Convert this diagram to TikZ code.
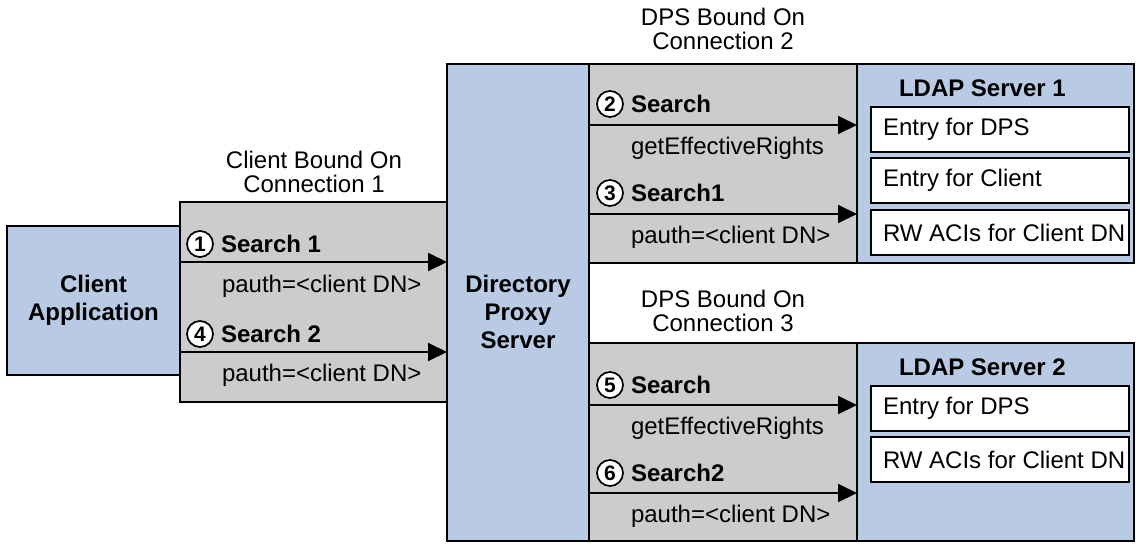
\documentclass[tikz,border=0pt]{standalone}
\usepackage{fontspec}
\setmainfont{Liberation Sans}
\usetikzlibrary{arrows.meta}
\definecolor{boxblue}{RGB}{185,203,228}
\definecolor{boxgray}{RGB}{204,204,204}
\newcommand{\entrytext}[1]{\makebox[234pt][l]{#1}}
\begin{document}
\begin{tikzpicture}[x=1pt,y=-1pt,
  every node/.style={font=\fontsize{24}{24}\selectfont, inner sep=0pt, outer sep=0pt},
  boldtext/.style={font=\fontsize{24}{28}\selectfont\bfseries},
  frame/.style={draw=black, line width=2pt, anchor=north west},
  bluebox/.style={frame, fill=boxblue},
  graybox/.style={frame, fill=boxgray},
  entrybox/.style={frame, fill=white, minimum width=258pt, minimum height=45pt,
    inner xsep=12pt},
  numcircle/.style={circle, draw=black, fill=white, line width=1.7pt, minimum size=26pt,
    font=\fontsize{21}{21}\selectfont\bfseries},
  conn/.style={line width=2pt, -{Triangle[length=19pt,width=18pt]}},
  header/.style={align=center, font=\fontsize{24}{24}\selectfont}
]
\useasboundingbox (0,0) rectangle (1136,544);

% boxes
\node[bluebox, minimum width=173pt, minimum height=149pt] (client) at (7,226) {};
\node[boldtext, align=center] (clientlbl) at (client.center) {Client\\Application};
\node[graybox, minimum width=267pt, minimum height=200pt] (gray1) at (180,202) {};
\node[bluebox, minimum width=142pt, minimum height=477pt] (dps) at (447,64) {};
\node[boldtext, align=center] (dpslbl) at (518,312) {Directory\\Proxy\\Server};
\node[graybox, minimum width=268pt, minimum height=199pt] (gray2) at (589,64) {};
\node[bluebox, minimum width=277pt, minimum height=199pt] (ldap1) at (857,64) {};
\node[graybox, minimum width=268pt, minimum height=198pt] (gray3) at (589,343) {};
\node[bluebox, minimum width=277pt, minimum height=198pt] (ldap2) at (857,343) {};

% LDAP contents
\node[boldtext, anchor=west] (l1lbl) at (899,88) {LDAP Server 1};
\node[entrybox] (e11) at (871,107) {\entrytext{Entry for DPS}};
\node[entrybox] (e12) at (871,158) {\entrytext{Entry for Client}};
\node[entrybox] (e13) at (871,210) {\entrytext{RW ACIs for Client DN}};
\node[boldtext, anchor=west] (l2lbl) at (899,367) {LDAP Server 2};
\node[entrybox] (e21) at (871,386) {\entrytext{Entry for DPS}};
\node[entrybox] (e22) at (871,437) {\entrytext{RW ACIs for Client DN}};

% headers
\node[header] (h1) at (314,172) {Client Bound On\\Connection 1};
\node[header] (h2) at (723,29) {DPS Bound On\\Connection 2};
\node[header] (h3) at (723,311) {DPS Bound On\\Connection 3};

% rows
\coordinate (r1) at (0,262);
\coordinate (r4) at (0,352);
\coordinate (r2) at (0,125);
\coordinate (r3) at (0,214);
\coordinate (r5) at (0,405);
\coordinate (r6) at (0,493);

\draw[conn] (gray1.west |- r1) -- (dps.west |- r1);
\draw[conn] (gray1.west |- r4) -- (dps.west |- r4);
\draw[conn] (gray2.west |- r2) -- (ldap1.west |- r2);
\draw[conn] (gray2.west |- r3) -- (ldap1.west |- r3);
\draw[conn] (gray3.west |- r5) -- (ldap2.west |- r5);
\draw[conn] (gray3.west |- r6) -- (ldap2.west |- r6);

% step numbers and labels
\node[numcircle] (n1) at (200,244) {1};
\node[boldtext, anchor=west] (s1) at (221,244) {Search 1};
\node[anchor=base west] (p1) at (222,292) {pauth=<client DN>};

\node[numcircle] (n4) at (200,334) {4};
\node[boldtext, anchor=west] (s4) at (221,334) {Search 2};
\node[anchor=base west] (p4) at (222,381) {pauth=<client DN>};

\node[numcircle] (n2) at (610,104) {2};
\node[boldtext, anchor=west] (s2) at (631,104) {Search};
\node[anchor=base west] (p2) at (631,154) {getEffectiveRights};

\node[numcircle] (n3) at (610,193) {3};
\node[boldtext, anchor=west] (s3) at (631,193) {Search1};
\node[anchor=base west] (p3) at (631,243) {pauth=<client DN>};

\node[numcircle] (n5) at (610,385) {5};
\node[boldtext, anchor=west] (s5) at (631,385) {Search};
\node[anchor=base west] (p5) at (631,434) {getEffectiveRights};

\node[numcircle] (n6) at (610,473) {6};
\node[boldtext, anchor=west] (s6) at (631,473) {Search2};
\node[anchor=base west] (p6) at (631,522) {pauth=<client DN>};
\end{tikzpicture}
\end{document}
